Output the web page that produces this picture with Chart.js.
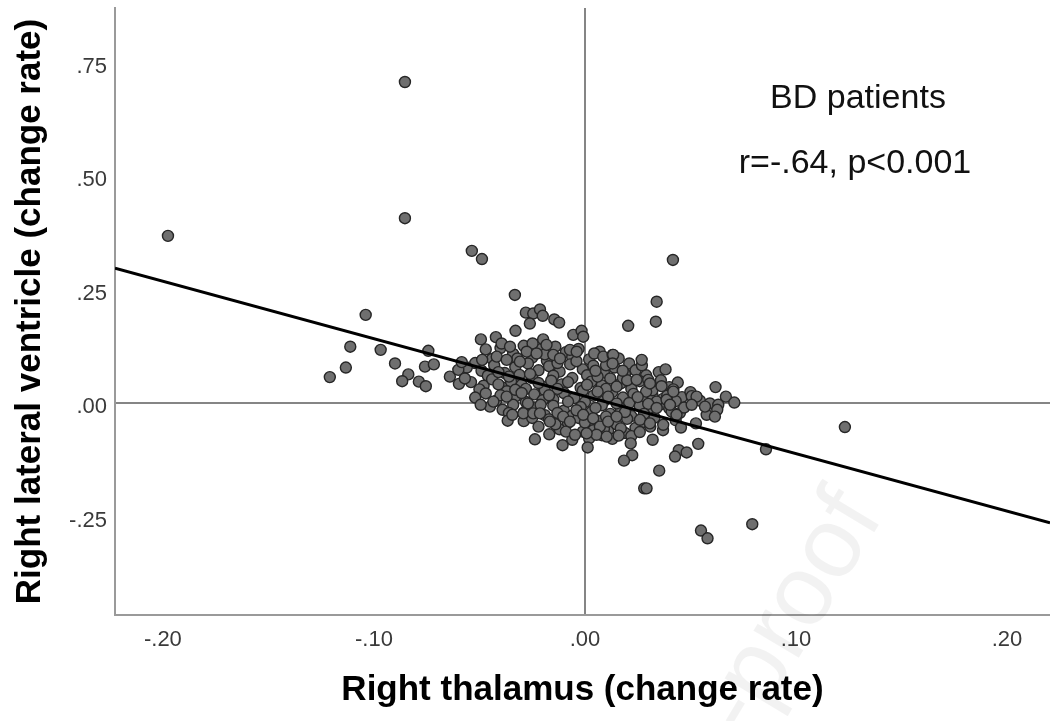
<!DOCTYPE html>
<html>
<head>
<meta charset="utf-8">
<script src="https://cdn.jsdelivr.net/npm/chart.js@4.4.1/dist/chart.umd.min.js"></script>
<style>
  body { margin: 0; background: #fff; }
  #wrap { width: 1050px; height: 721px; }
</style>
</head>
<body>
<div id="wrap"><canvas id="scatterChart" width="1050" height="721"></canvas></div>
<script>
// x = right thalamus change rate, y = right lateral ventricle change rate
const outlierPoints = [
  [-0.1976,0.368],[-0.0853,0.707],[-0.0853,0.407],[-0.0536,0.335],[-0.0488,0.317],[0.0417,0.315],
  [-0.1039,0.194],[-0.1112,0.124],[-0.1133,0.078],[-0.1209,0.057],[-0.0968,0.117],[-0.0900,0.087],
  [-0.0837,0.063],[-0.0866,0.048],[-0.0787,0.047],[-0.0754,0.037],[-0.0758,0.080],[-0.0716,0.085],
  [-0.0742,0.115],[-0.0640,0.058],[-0.0600,0.073],[-0.0597,0.042],[-0.0584,0.090],[-0.0569,0.054],
  [-0.0332,0.238],[-0.0280,0.199],[-0.0245,0.197],[-0.0213,0.206],[-0.0200,0.192],[-0.0261,0.175],
  [-0.0145,0.184],[-0.0122,0.177],[-0.0329,0.159],[-0.0493,0.140],[-0.0422,0.145],[-0.0395,0.131],
  [-0.0355,0.124],[-0.0055,0.150],[-0.0016,0.159],[-0.0008,0.146],[-0.0248,0.131],[-0.0198,0.140],
  [-0.0182,0.128],[0.0044,0.109],[0.0087,0.102],[0.0131,0.106],[-0.0487,0.095],[-0.0071,0.117],
  [-0.0039,0.113],[-0.0276,0.113],[-0.0229,0.109],[-0.0150,0.106],[-0.0118,0.098],[-0.0418,0.102],
  [-0.0371,0.095],[-0.0308,0.091],
  [0.0340,0.223],[0.0336,0.179],[0.0205,0.170],[0.0269,0.095],[0.0382,0.074],[0.0134,0.106],
  [0.0131,0.087],[0.0179,0.071],[0.0245,0.051],[0.0300,0.051],[0.0308,0.043],[0.0363,0.037],
  [0.0419,0.030],[0.0506,0.015],[0.0545,0.005],[0.0619,0.035],[0.0668,0.014],[0.0708,0.001],
  [0.0592,-0.001],[0.0632,-0.004],[0.0529,0.014],[0.0627,-0.015],[0.0577,-0.026],[0.0616,-0.030],
  [0.0506,-0.004],[0.0569,-0.008],[0.0526,-0.045],[0.0455,-0.054],[0.0858,-0.102],[0.0321,-0.081],
  [0.0537,-0.090],[0.0445,-0.104],[0.0482,-0.109],[0.0427,-0.118],[0.0217,-0.089],[0.0224,-0.115],
  [0.0185,-0.127],[0.0352,-0.149],[0.0281,-0.188],[0.0292,-0.188],[0.0793,-0.267],[0.0550,-0.281],
  [0.0581,-0.298],[0.0261,-0.037],[0.0308,-0.045],[0.0371,-0.048],[0.0411,-0.019],[0.0434,-0.026],
  [0.0387,0.007],[0.0403,-0.004],[0.0419,0.025],[0.1232,-0.053],
  [-0.0494,-0.004],[-0.0434,0.003],[-0.0371,0.014],[-0.0366,-0.039],[-0.0344,-0.026],[-0.0237,-0.080],
  [-0.0169,-0.069],[-0.0106,-0.093],[0.0013,-0.098],[-0.0047,-0.070],[-0.0292,-0.023],[-0.0245,-0.023],
  [-0.0213,-0.023],[-0.0166,-0.041],[-0.0103,-0.030],[-0.0071,-0.041],[-0.0008,-0.026],[0.0039,-0.034],
  [0.0071,-0.052],[0.0110,-0.041],[0.0150,-0.030],[0.0055,-0.070],[0.0103,-0.074],[0.0008,-0.067]
];

const clusterPoints = [
  [-0.047,0.118],[-0.040,0.121],[-0.034,0.108],[-0.029,0.126],[-0.021,0.118],[-0.014,0.124],
  [-0.009,0.112],[-0.003,0.119],[0.002,0.096],[0.007,0.113],[-0.025,0.100],[-0.018,0.093],
  [-0.044,0.097],[0.011,0.091],[0.016,0.098],[0.021,0.087],[-0.052,0.088],[-0.006,0.101],
  [-0.056,0.078],[-0.049,0.071],[-0.043,0.083],[-0.038,0.066],[-0.033,0.079],[-0.027,0.087],
  [-0.022,0.072],[-0.017,0.081],[-0.012,0.069],[-0.007,0.085],[-0.001,0.074],[0.004,0.082],
  [0.009,0.067],[0.014,0.078],[0.019,0.064],[0.024,0.072],[0.029,0.061],[0.035,0.068],
  [-0.031,0.062],[-0.015,0.060],[0.001,0.061],[-0.046,0.060],
  [-0.054,0.046],[-0.048,0.038],[-0.044,0.052],[-0.039,0.034],[-0.035,0.047],[-0.030,0.040],
  [-0.025,0.055],[-0.020,0.036],[-0.016,0.049],[-0.011,0.041],[-0.006,0.055],[-0.002,0.033],
  [0.003,0.047],[0.008,0.039],[0.012,0.054],[0.017,0.043],[0.022,0.031],[0.026,0.048],
  [0.031,0.037],[0.036,0.050],[0.040,0.035],[0.044,0.045],[-0.028,0.031],[0.006,0.058],[-0.050,0.030],
  [-0.052,0.012],[-0.047,0.021],[-0.042,0.005],[-0.037,0.026],[-0.033,0.014],[-0.028,0.002],
  [-0.024,0.019],[-0.019,0.028],[-0.015,0.008],[-0.010,0.022],[-0.005,0.011],[-0.001,0.027],
  [0.004,0.016],[0.009,0.004],[0.013,0.024],[0.018,0.012],[0.023,0.020],[0.027,0.006],
  [0.032,0.017],[0.037,0.009],[0.041,0.022],[0.046,0.013],[0.050,0.024],[-0.020,0.006],
  [0.000,0.002],[0.021,0.000],
  [-0.045,-0.008],[-0.039,-0.015],[-0.034,-0.004],[-0.029,-0.021],[-0.024,-0.010],[-0.019,-0.027],
  [-0.015,-0.006],[-0.010,-0.017],[-0.006,-0.028],[-0.002,-0.009],[0.003,-0.020],[0.008,-0.005],
  [0.012,-0.024],[0.017,-0.013],[0.022,-0.029],[0.026,-0.007],[0.031,-0.018],[0.036,-0.003],
  [0.040,-0.012],[0.045,-0.022],[-0.027,-0.001],[0.015,-0.001],
  [-0.029,-0.040],[-0.022,-0.052],[-0.017,-0.036],[-0.012,-0.058],[-0.008,-0.044],[-0.003,-0.033],
  [0.002,-0.050],[0.006,-0.039],[0.011,-0.061],[0.015,-0.047],[0.020,-0.035],[0.024,-0.055],
  [0.028,-0.042],[0.033,-0.032],[0.037,-0.060],[-0.001,-0.063],[0.019,-0.066],[0.008,-0.071],
  [0.002,-0.078],[0.013,-0.079],[0.022,-0.073],[-0.006,-0.081],
  [-0.041,0.068],[-0.036,0.058],[-0.032,0.098],[-0.026,0.064],[-0.019,0.107],[-0.013,0.088],
  [-0.004,0.092],[0.005,0.071],[0.010,0.083],[0.018,0.055],[0.027,0.083],[0.032,0.028],
  [-0.041,0.041],[-0.033,0.029],[-0.022,0.044],[-0.013,0.031],[-0.008,0.046],[0.001,0.040],
  [0.010,0.031],[0.015,0.036],[0.020,0.050],[0.029,0.025],[0.034,0.003],[0.043,0.004],
  [-0.040,0.017],[-0.030,0.022],[-0.017,0.017],[-0.008,0.003],[0.006,0.025],[0.011,0.014],
  [0.025,0.013],[0.030,-0.002],[0.039,0.016],[0.047,-0.010],[-0.036,-0.022],[-0.021,-0.004],
  [-0.013,-0.022],[-0.004,-0.016],[0.005,-0.011],[0.010,-0.030],[0.019,-0.020],[0.028,-0.024],
  [0.034,-0.011],[0.043,-0.038],[-0.025,-0.033],[-0.014,-0.047],[0.000,-0.043],[0.009,-0.057],
  [0.017,-0.056],[0.026,-0.064],[0.031,-0.052],[-0.009,-0.063],[0.016,-0.072],[0.004,-0.060]
];

// fit line end points, read at the plot edges
const fitLine = [[-0.2227, 0.297], [0.2204, -0.264]];

const xTickValues = [-0.2, -0.1, 0, 0.1, 0.2];
const xTickLabels = ['-.20', '-.10', '.00', '.10', '.20'];
const yTickValues = [-0.25, 0, 0.25, 0.5, 0.75];
const yTickLabels = ['-.25', '.00', '.25', '.50', '.75'];

const xRange = [-0.2227, 0.2204];
const yRange = [-0.467, 0.870];

const annotationLines = ['BD patients', 'r=-.64, p<0.001'];

const FONT = "'Liberation Sans', Arial, sans-serif";

const toXY = arr => arr.map(p => ({ x: p[0], y: p[1] }));

const zeroGrid = ctx => (ctx.tick && ctx.tick.value === 0) ? '#858585' : 'rgba(0,0,0,0)';

const textPlugin = {
  id: 'textPlugin',
  afterDraw(chart) {
    const ctx = chart.ctx;
    ctx.save();
    // faint watermark
    ctx.translate(884, 516);
    ctx.rotate(-59 * Math.PI / 180);
    ctx.font = `100px ${FONT}`;
    ctx.fillStyle = 'rgba(0,0,0,0.05)';
    ctx.textAlign = 'right';
    ctx.textBaseline = 'alphabetic';
    ctx.fillText('Journal Pre-proof', 0, 0);
    ctx.restore();

    ctx.save();
    ctx.font = `34px ${FONT}`;
    ctx.fillStyle = '#111';
    ctx.textAlign = 'center';
    ctx.textBaseline = 'middle';
    ctx.fillText(annotationLines[0], 858, 99);
    ctx.fillText(annotationLines[1], 855, 164);
    ctx.restore();
  }
};

new Chart(document.getElementById('scatterChart'), {
  type: 'scatter',
  data: {
    datasets: [
      {
        label: 'fit',
        type: 'line',
        data: toXY(fitLine),
        borderColor: '#000',
        borderWidth: 3,
        pointRadius: 0,
        fill: false,
        order: 0
      },
      {
        label: 'patients',
        data: toXY(clusterPoints.concat(outlierPoints)),
        backgroundColor: '#6f6f6f',
        borderColor: '#262626',
        borderWidth: 1.4,
        pointRadius: 5.5,
        order: 1
      }
    ]
  },
  options: {
    responsive: false,
    animation: false,
    layout: { autoPadding: false, padding: { top: 8, right: 0, left: 0, bottom: 0 } },
    plugins: {
      legend: { display: false },
      tooltip: { enabled: false }
    },
    scales: {
      x: {
        type: 'linear',
        min: xRange[0],
        max: xRange[1],
        afterBuildTicks: s => { s.ticks = xTickValues.map(v => ({ value: v })); },
        afterFit: s => { s.height = 106; s.paddingLeft = 0; s.paddingRight = 0; },
        ticks: {
          callback: (v) => xTickLabels[xTickValues.indexOf(v)] ?? '',
          color: '#3a3a3a',
          font: { family: FONT, size: 22 },
          padding: 12,
          maxRotation: 0
        },
        grid: { color: zeroGrid, lineWidth: 2, drawTicks: false },
        border: { display: true, color: '#9a9a9a', width: 2 },
        title: {
          display: true,
          text: 'Right thalamus (change rate)',
          color: '#000',
          font: { family: FONT, size: 35, weight: 'bold' },
          padding: { top: 0, bottom: 10 }
        }
      },
      y: {
        type: 'linear',
        min: yRange[0],
        max: yRange[1],
        afterBuildTicks: s => { s.ticks = yTickValues.map(v => ({ value: v })); },
        afterFit: s => { s.width = 115; s.paddingTop = 0; s.paddingBottom = 0; },
        ticks: {
          callback: (v) => yTickLabels[yTickValues.indexOf(v)] ?? '',
          color: '#3a3a3a',
          font: { family: FONT, size: 22 },
          padding: 8,
          labelOffset: 4
        },
        grid: { color: zeroGrid, lineWidth: 2, drawTicks: false },
        border: { display: true, color: '#9a9a9a', width: 2 },
        title: {
          display: true,
          text: 'Right lateral ventricle (change rate)',
          color: '#000',
          font: { family: FONT, size: 35, weight: 'bold' },
          padding: { top: 9, bottom: 0 }
        }
      }
    }
  },
  plugins: [textPlugin]
});
</script>
</body>
</html>
